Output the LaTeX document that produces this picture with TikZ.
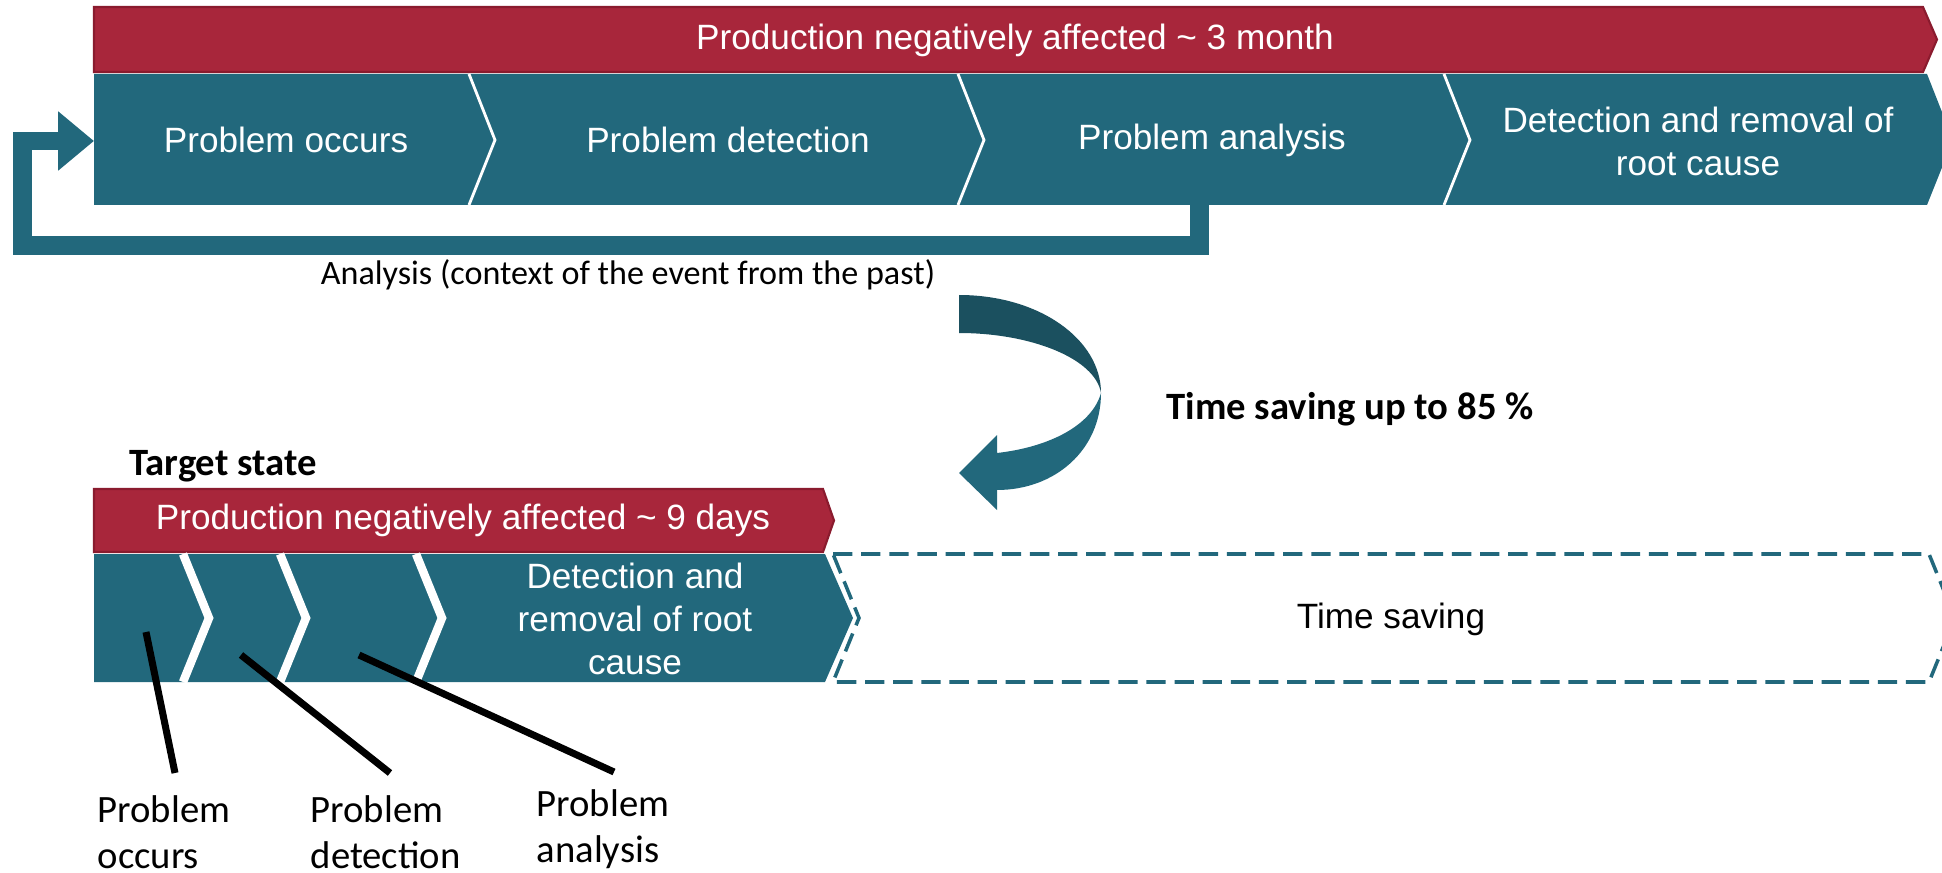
\documentclass[tikz,border=0pt]{standalone}
\usepackage{fontspec}
\setmainfont{Carlito}
\newfontfamily\arialfont{Liberation Sans}
\usetikzlibrary{arrows.meta}
\definecolor{tealband}{RGB}{34,104,124}
\definecolor{tealdark}{RGB}{27,80,95}
\definecolor{redfill}{RGB}{168,38,59}
\definecolor{redline}{RGB}{138,27,46}
\begin{document}
\begin{tikzpicture}
        [x=0.01cm,y=-0.01cm,
        band/.style ={fill=tealband},
        redbar/.style ={fill=redfill,draw=redline,line width=0.6pt},
        sep/.style ={draw=white,line width=0.8pt},
        intext/.style ={text=white,font=\arialfont\fontsize{10}{12.2}\selectfont,align=center},
        lbl/.style ={font=\fontsize{11}{13}\selectfont,align=left,anchor=west,inner sep=0pt},
        callout/.style ={line width=2pt},
        saved/.style ={draw=tealband,line width=1pt,dash pattern=on 5.5pt off 2.5pt},
        loopback/.style ={draw=tealband,line width=5.4pt,line join=miter,-{Triangle[length=10.2pt,width=16.2pt]}}]
        \useasboundingbox (0,0) rectangle (1942,873);
        \clip (0,0) rectangle (1942,873);
        \draw[redbar] (94,7) -- (1923,7) -- (1937,39.5) -- (1923,72) -- (94,72) -- cycle;
        \node[intext] (prodA) at (1015,40) {Production negatively affected \textasciitilde{} 3 month};
        \fill[band] (94,74) -- (1927,74) -- (1953,140) -- (1927,205) -- (94,205) -- cycle;
        \draw[sep] (469,74) -- (495,140) -- (469,205) (958,74) -- (984,140) -- (958,205) (1444,74) -- (1470,140) -- (1444,205);
        \node[intext] (occ) at (286,140) {Problem occurs};
        \node[intext] (det) at (728,140) {Problem detection};
        \node[intext] (ana) at (1212,140) {Problem analysis};
        \node[intext] (rem) at (1698,141) {Detection and removal of\\root cause};
        \coordinate (fb) at (1199.5,205);
        \coordinate (occin) at (94,141);
        \draw[loopback] (fb) |- (22.5,245.5) |- (occin);
        \node[font=\fontsize{9.7}{11}\selectfont] (ctx) at (628,275) {Analysis (context of the event from the past)};
        \fill[tealdark] (959,295) .. controls (1040,295) and (1101,340) .. (1101,393) .. controls (1095,358) and (1030,333) .. (959,333) -- cycle;
        \fill[tealband] (1101,393) .. controls (1101,450) and (1055,490) .. (997,490) -- (997,510) -- (959,473) -- (997,435) -- (997,453) .. controls (1050,447) and (1092,425) .. (1101,393) -- cycle;
        \node[font=\bfseries\fontsize{11}{13}\selectfont] (gain) at (1350,409) {Time saving up to 85 \%};
        \node[font=\bfseries\fontsize{11}{13}\selectfont] (target) at (223,466) {Target state};
        \draw[redbar] (94,489) -- (823,489) -- (834,520.5) -- (823,552) -- (94,552) -- cycle;
        \node[intext] (prodB) at (463,520) {Production negatively affected \textasciitilde{} 9 days};
        \fill[band] (94,554) -- (825,554) -- (853,618) -- (825,682) -- (94,682) -- cycle;
        \draw[sep,line width=2.4pt] (183,554) -- (209,618) -- (183,682) (280,554) -- (306,618) -- (280,682) (416,554) -- (442,618) -- (416,682);
        \node[intext] (remB) at (635,619) {Detection and\\removal of root\\cause};
        \draw[saved] (833,554) -- (1929,554) -- (1955,618) -- (1929,682) -- (833,682) -- (859,618) -- cycle;
        \node[intext,text=black] (saving) at (1391,619) {Time saving};
        \node[lbl] (lbocc) at (97,832) {Problem\\occurs};
        \node[lbl] (lbdet) at (310,832) {Problem\\detection};
        \node[lbl] (lbana) at (536,829) {Problem\\analysis};
        \coordinate (c1) at (146,632);
        \coordinate (c2) at (241,655);
        \coordinate (c3) at (359,655);
        \coordinate (e1) at (175,773);
        \coordinate (e2) at (390,773);
        \coordinate (e3) at (614,772);
        \draw[callout] (c1) -- (e1) (c2) -- (e2) (c3) -- (e3);
    \end{tikzpicture}
\end{document}
